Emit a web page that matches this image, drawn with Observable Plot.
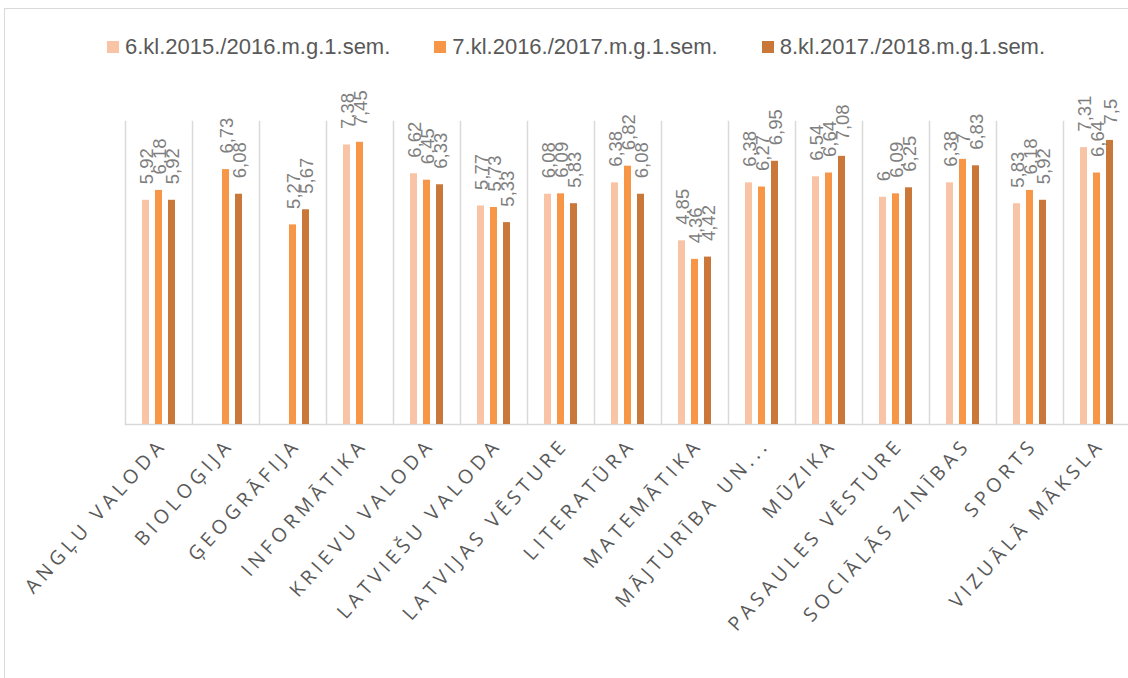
<!DOCTYPE html>
<html><head><meta charset="utf-8">
<script src="https://cdn.jsdelivr.net/npm/d3@7"></script>
<script src="https://cdn.jsdelivr.net/npm/@observablehq/plot@0.6"></script>
<style>
html,body{margin:0;padding:0;background:#fff;overflow:hidden;}
#wrap{position:relative;width:1128px;height:678px;overflow:hidden;}
#border{position:absolute;left:4px;top:8px;width:1300px;height:900px;border:1.5px solid #d9d9d9;box-sizing:border-box;}
#legend{position:relative;height:80px;box-sizing:border-box;padding-top:14px;padding-left:24px;display:flex;justify-content:center;align-items:center;font-family:"Liberation Sans",Arial,sans-serif;font-size:22px;color:#595959;}
.item{display:flex;align-items:center;margin:0 22px;}
.sw{width:12px;height:12px;margin-right:6px;}
#chart{position:relative;}
</style></head>
<body>
<div id="wrap">
<div id="border"></div>
<div id="legend"></div>
<div id="chart"></div>
</div>
<script>
const categories = ["ANGĻU VALODA","BIOLOĢIJA","ĢEOGRĀFIJA","INFORMĀTIKA","KRIEVU VALODA","LATVIEŠU VALODA","LATVIJAS VĒSTURE","LITERATŪRA","MATEMĀTIKA","MĀJTURĪBA UN...","MŪZIKA","PASAULES VĒSTURE","SOCIĀLĀS ZINĪBAS","SPORTS","VIZUĀLĀ MĀKSLA"];
const series = ["6.kl.2015./2016.m.g.1.sem.","7.kl.2016./2017.m.g.1.sem.","8.kl.2017./2018.m.g.1.sem."];
const values6 = [5.92,null,null,7.38,6.62,5.77,6.08,6.38,4.85,6.38,6.54,6,6.38,5.83,7.31];
const values7 = [6.18,6.73,5.27,7.45,6.45,5.73,6.09,6.82,4.36,6.27,6.64,6.09,7,6.18,6.64];
const values8 = [5.92,6.08,5.67,null,6.33,5.33,5.83,6.08,4.42,6.95,7.08,6.25,6.83,5.92,7.5];
const colors = ["#f9c4a5","#f79646","#c9783a"];

const allValues = [values6, values7, values8];
const data = [];
categories.forEach((c, i) => {
  series.forEach((s, j) => {
    const v = allValues[j][i];
    if (v != null) data.push({cat: c, series: s, value: v});
  });
});
const fmt = v => String(v).replace(".", ",");

// legend
const legend = d3.select("#legend");
series.forEach((s, j) => {
  const it = legend.append("div").attr("class", "item");
  it.append("div").attr("class", "sw").style("background", colors[j]);
  it.append("span").text(s);
});

const chart = Plot.plot({
  width: 1128, height: 598,
  marginTop: 41, marginBottom: 254, marginLeft: 122, marginRight: -5,
  style: {background: "transparent", overflow: "visible"},
  fx: {domain: categories, padding: 0, label: null},
  x: {domain: series, paddingInner: 0.5, paddingOuter: 1.15, axis: null},
  y: {domain: [0, 8], axis: null},
  color: {domain: series, range: colors},
  marks: [
    Plot.frame({anchor: "left", stroke: "#d9d9d9", strokeWidth: 1.5}),
    Plot.ruleY([0], {stroke: "#d9d9d9", strokeWidth: 1.5}),
    Plot.barY(data, {fx: "cat", x: "series", y: "value", fill: "series"}),
    Plot.text(data, {fx: "cat", x: "series", y: "value", text: d => fmt(d.value), rotate: -90, textAnchor: "start", dy: -16, dx: 1, fontSize: 18.5, fill: "#7f7f7f", fontFamily: "Liberation Sans"}),
    Plot.axisFx({anchor: "bottom", tickRotate: -48, tickSize: 0, tickPadding: 17, dx: 4, fontSize: 19.5, fill: "#595959", fontFamily: "Open Sans", label: null})
  ]
});
d3.select(chart).selectAll('g[aria-label="fx-axis tick label"]').attr("letter-spacing", "4.5px");
document.getElementById("chart").appendChild(chart);
</script>
</body></html>
